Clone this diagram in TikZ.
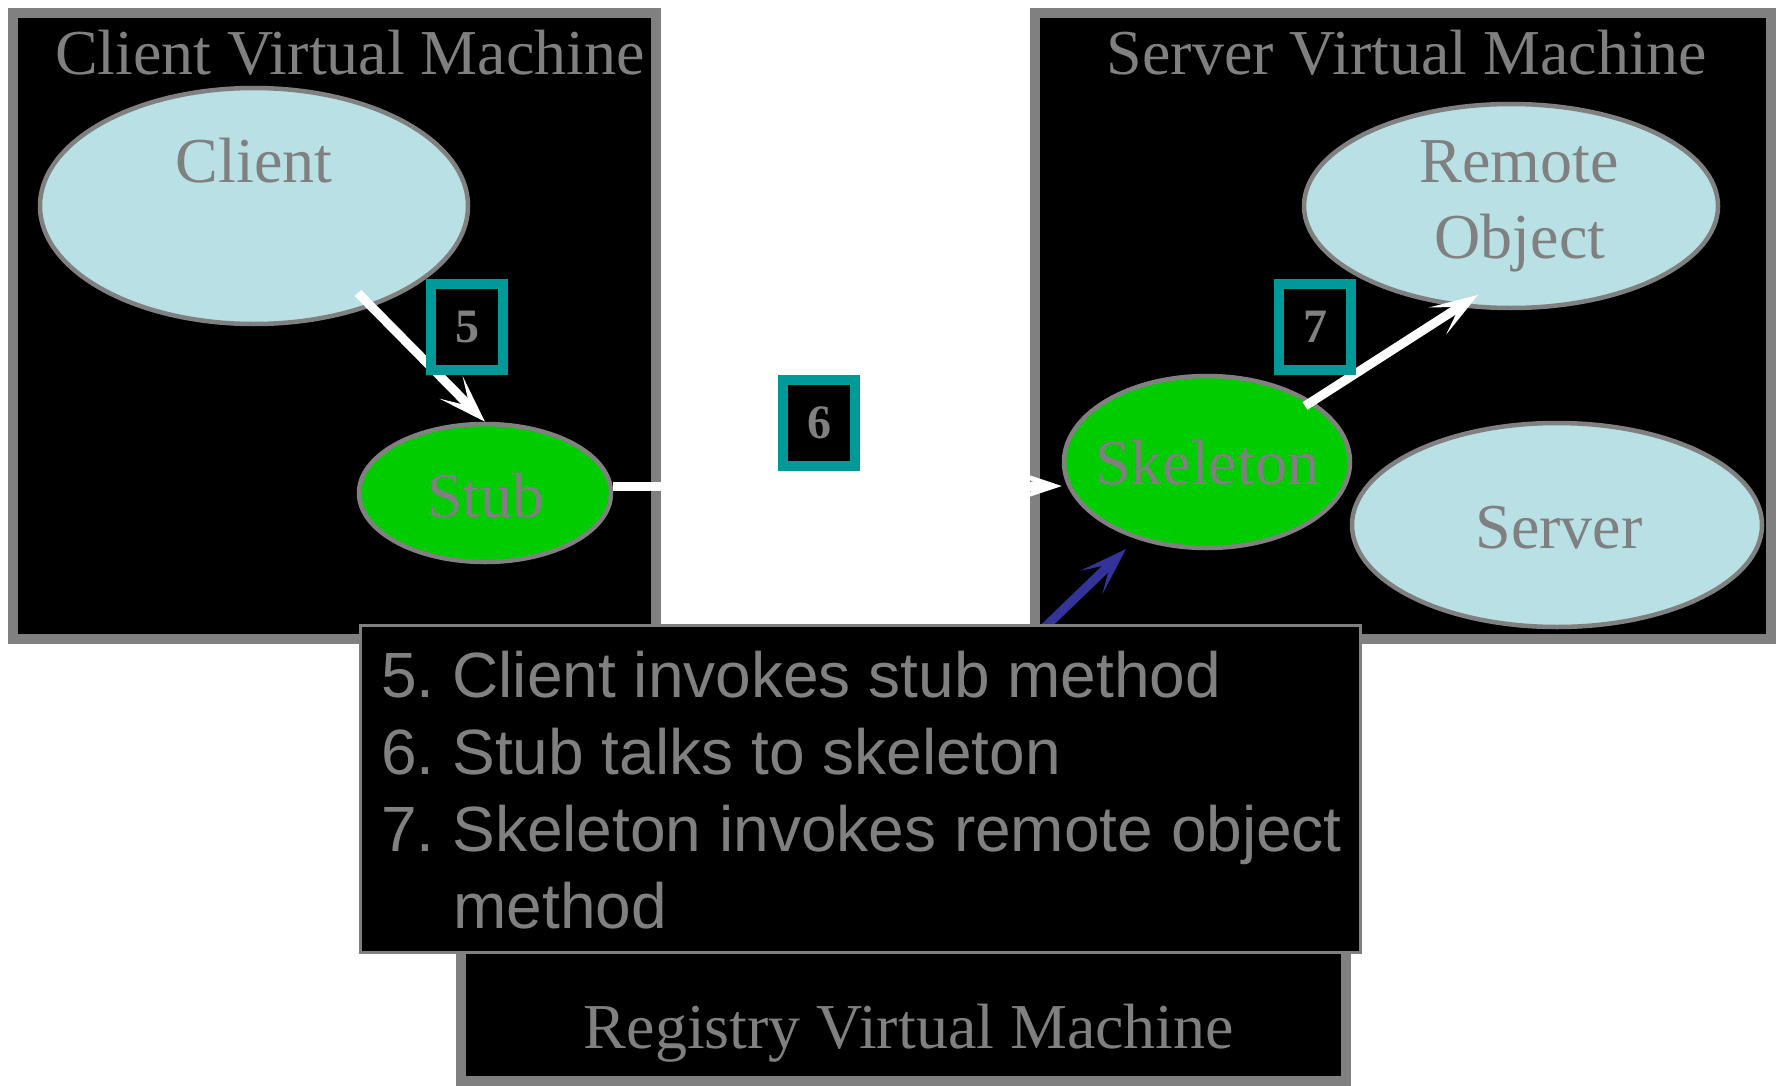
\documentclass[tikz,border=0pt]{standalone}
\usepackage{fontspec}
\setmainfont{Liberation Serif}
\setsansfont{Liberation Sans}
\usetikzlibrary{shapes.geometric,arrows.meta}
\definecolor{frame}{HTML}{808080}
\definecolor{ink}{HTML}{808080}
\definecolor{paleblue}{HTML}{B9E0E4}
\definecolor{stubgreen}{HTML}{00CC00}
\definecolor{tagteal}{HTML}{009999}
\definecolor{linkblue}{HTML}{333399}
\frenchspacing
\begin{document}
\begin{tikzpicture}[x=0.5pt,y=-0.5pt,
  vmbox/.style={draw=frame, line width=5pt, fill=black, inner sep=0pt},
  obj/.style={ellipse, draw=frame, line width=2.25pt, inner sep=0pt},
  caption/.style={anchor=base, inner sep=0pt, text=ink, font=\fontsize{32}{38}\selectfont},
  tag/.style={draw=tagteal, line width=5pt, fill=black, inner sep=0pt,
    minimum width=36pt, minimum height=43pt, text=ink,
    font=\fontsize{24}{28}\selectfont\bfseries},
  flow/.style={draw=white, line width=4.5pt,
    -{Stealth[length=24pt,width=16pt,inset=13pt]}},
  lookup/.style={draw=linkblue, line width=4.5pt,
    -{Stealth[length=24pt,width=16pt,inset=13pt]}},
  item/.style={anchor=base west, inner sep=0pt, text=ink,
    font=\sffamily\fontsize{32}{38.5}\selectfont}]

% canvas
\fill[white] (0,0) rectangle (1777,1086);
\useasboundingbox (0,0) rectangle (1777,1086);

% virtual machines
\node[vmbox, minimum width=321.5pt, minimum height=313pt] (clientvm) at (334.5,326) {};
\node[vmbox, minimum width=368pt, minimum height=313pt] (servervm) at (1403,326) {};
\node[vmbox, minimum width=442.5pt, minimum height=75.5pt] (registryvm) at (903.5,1005.5) {};

\node[caption] (clienttitle) at (350,75) {Client Virtual Machine};
\node[caption] (servertitle) at (1407,75) {Server Virtual Machine};
\node[caption] (registrytitle) at (909,1048) {Registry Virtual Machine};

% objects
\node[obj, fill=paleblue, minimum width=214pt, minimum height=118pt] (client) at (254,206) {};
\node[obj, fill=stubgreen, minimum width=126pt, minimum height=69pt] (stub) at (485,493) {};
\node[obj, fill=stubgreen, minimum width=143pt, minimum height=86pt] (skel) at (1207,462) {};
\node[obj, fill=paleblue, minimum width=207pt, minimum height=102pt] (remote) at (1511,206) {};
\node[obj, fill=paleblue, minimum width=205pt, minimum height=102pt] (server) at (1557,525) {};

\node[caption] (clientlbl) at (254,183) {Client};
\node[caption] (stublbl) at (486,517) {Stub};
\node[caption] (skellbl) at (1207,484) {Skeleton};
\node[caption] (remotelbl) at (1519,182) {Remote};
\node[caption] (objectlbl) at (1520,258) {Object};
\node[caption] (serverlbl) at (1559,548) {Server};

% call flow
\coordinate (c5) at (358,293);
\coordinate (c7a) at (1305,406);
\coordinate (c7b) at (1478,295);
\draw[flow] (c5) -- (stub.north);
\draw[flow] (stub.east |- 0,486) -- (skel.west |- 0,486);
\draw[flow] (c7a) -- (c7b);

% step tags
\node[tag] (t5) at (467,327) {5};
\node[tag] (t6) at (819,423) {6};
\node[tag] (t7) at (1315,327) {7};

% registry link
\coordinate (bs) at (960,709);
\coordinate (bt) at (1126,549);
\draw[lookup] (bs) -- (bt);

% step list
\node[draw=frame, line width=1.5pt, fill=black, inner sep=0pt,
  minimum width=500pt, minimum height=163.5pt] (notes) at (860,788.5) {};
\node[item] (i5) at (381,697) {5.\ Client invokes stub method};
\node[item] (i6) at (381,774) {6.\ Stub talks to skeleton};
\node[item] (i7) at (381,851) {7.\ Skeleton invokes remote object};
\node[item] (i7b) at (453,928) {method};
\end{tikzpicture}
\end{document}
